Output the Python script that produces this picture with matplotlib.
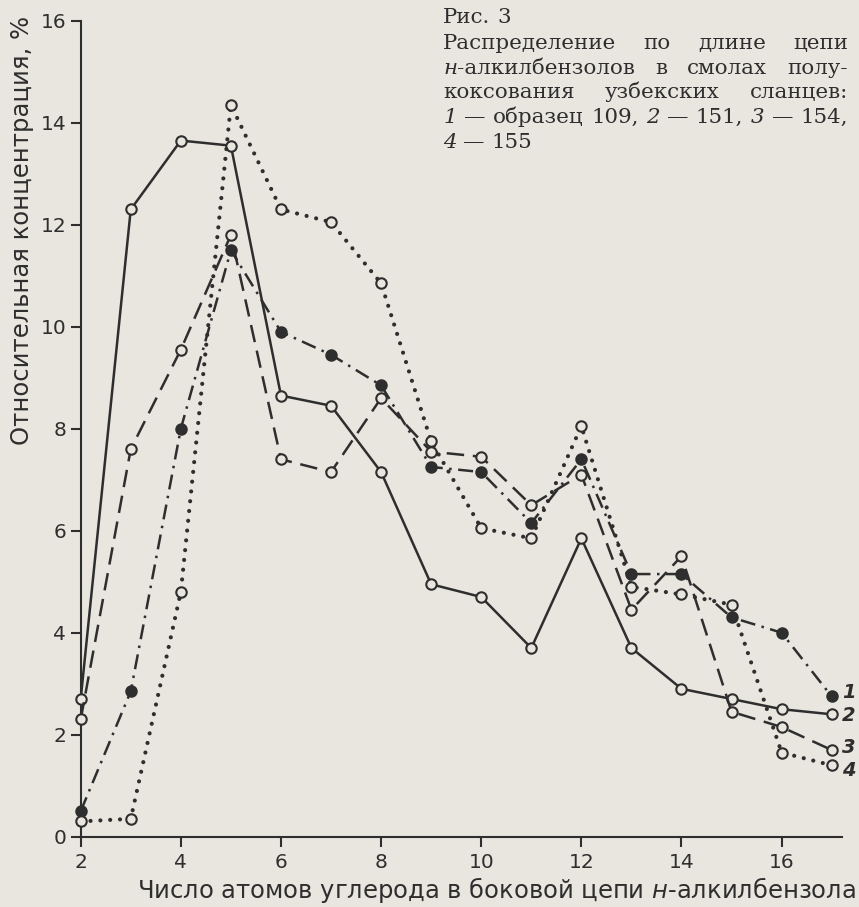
import numpy as np
import matplotlib
matplotlib.use("Agg")
import matplotlib.pyplot as plt

# carbon atoms in the side chain
carbons = [2, 3, 4, 5, 6, 7, 8, 9, 10, 11, 12, 13, 14, 15, 16, 17]

# relative concentration, %
s109 = [0.5, 2.85, 8.0, 11.5, 9.9, 9.45, 8.85, 7.25, 7.15, 6.15, 7.4, 5.15, 5.15, 4.3, 4.0, 2.75]
s151 = [2.7, 12.3, 13.65, 13.55, 8.65, 8.45, 7.15, 4.95, 4.7, 3.7, 5.85, 3.7, 2.9, 2.7, 2.5, 2.4]
s154 = [2.3, 7.6, 9.55, 11.8, 7.4, 7.15, 8.6, 7.55, 7.45, 6.5, 7.1, 4.45, 5.5, 2.45, 2.15, 1.7]
s155 = [0.3, 0.35, 4.8, 14.35, 12.3, 12.05, 10.85, 7.75, 6.05, 5.85, 8.05, 4.9, 4.75, 4.55, 1.65, 1.4]

curve_labels = ["1", "2", "3", "4"]
xticks = [2, 4, 6, 8, 10, 12, 14, 16]
yticks = [0, 2, 4, 6, 8, 10, 12, 14, 16]

BG = "#e8e6df"
INK = "#2e2e2e"
W, H = 859, 907

fig = plt.figure(figsize=(W / 100, H / 100), dpi=100, facecolor=BG)
# axes: x=2 at px 80.7, x=17.2 at px 841.7; y=0 at px 836.7, y=16 at px 20.7
ax = fig.add_axes([80.7 / W, (H - 836.7) / H, 761 / W, 816 / H])
ax.set_facecolor(BG)
ax.set_xlim(2, 17.2)
ax.set_ylim(0, 16)

for s in ["top", "right"]:
    ax.spines[s].set_visible(False)
for s in ["left", "bottom"]:
    ax.spines[s].set_linewidth(1.5)
    ax.spines[s].set_color(INK)
ax.spines["left"].set_bounds(0, 16)

ax.set_xticks(xticks)
ax.set_yticks(yticks)
ax.tick_params(direction="out", length=7.5, width=1.5, color=INK,
               labelsize=14.5, labelcolor=INK)
ax.tick_params(axis="x", pad=4)
ax.tick_params(axis="y", pad=3)
for lab in ax.get_xticklabels() + ax.get_yticklabels():
    lab.set_family("DejaVu Sans")

lw = 1.8
common = dict(color=INK, clip_on=False, zorder=3)
# 2: solid
ax.plot(carbons, s151, linestyle="-", lw=lw, marker="o", ms=7.5,
        mfc=BG, mec=INK, mew=1.5, **common)
# 3: dashed
ax.plot(carbons, s154, linestyle=(0, (7, 3.5)), lw=lw, marker="o", ms=7.5,
        mfc=BG, mec=INK, mew=1.5, **common)
# 1: dash-dot, filled markers
ax.plot(carbons, s109, linestyle=(0, (6, 2.6, 1, 2.6)), lw=lw, marker="o", ms=7.5,
        mfc=INK, mec=INK, mew=1.5, **common)
# 4: dotted
ax.plot(carbons, s155, linestyle=(0, (0.01, 2.35)), lw=3.0, dash_capstyle="round",
        color=INK, clip_on=False, zorder=3)
ax.plot(carbons, s155, linestyle="none", marker="o", ms=7.5,
        mfc=BG, mec=INK, mew=1.5, color=INK, clip_on=False, zorder=4)

# curve numbers at the right end
label_dy = [2.5, -1.2, 2.0, -3.5]
for lab, ser, dy in zip(curve_labels, [s109, s151, s154, s155], label_dy):
    ax.annotate(lab, xy=(carbons[-1], ser[-1]), xytext=(7.5, dy),
                textcoords="offset points", ha="left", va="center",
                fontsize=14, style="italic", fontweight="bold",
                family="DejaVu Sans", color=INK, annotation_clip=False)

# axis titles
fig.text(22 / W, 1 - 230 / H, "Относительная концентрация, %", rotation=90,
         ha="center", va="center", fontsize=17.5, family="DejaVu Sans", color=INK)
fig.text(496 / W, 1 - 890 / H, r"Число атомов углерода в боковой цепи $\mathit{н}$-алкилбензола",
         ha="center", va="center", fontsize=17.5, family="DejaVu Sans",
         math_fontfamily="dejavusans", color=INK)

# caption, justified word by word
cap_font = dict(fontsize=15.4, family="DejaVu Serif", color=INK)
caption = [
    ([[("Рис.", "normal")], [("3", "normal")]], False),
    ([[("Распределение", "normal")], [("по", "normal")], [("длине", "normal")],
      [("цепи", "normal")]], True),
    ([[("н", "italic"), ("-алкилбензолов", "normal")], [("в", "normal")],
      [("смолах", "normal")], [("полу-", "normal")]], True),
    ([[("коксования", "normal")], [("узбекских", "normal")], [("сланцев:", "normal")]], True),
    ([[("1", "italic")], [("—", "normal")], [("образец", "normal")], [("109,", "normal")],
      [("2", "italic")], [("—", "normal")], [("151,", "normal")],
      [("3", "italic")], [("—", "normal")], [("154,", "normal")]], True),
    ([[("4", "italic")], [("—", "normal")], [("155", "normal")]], False),
]
baselines = [23, 49, 73.5, 98, 123, 148]
x_left, x_right = 443, 848

fig.canvas.draw()
rend = fig.canvas.get_renderer()


def width_of(s, style):
    t = fig.text(0, 0, s, style=style, **cap_font)
    w = t.get_window_extent(rend).width
    t.remove()
    return w


space_w = width_of("a a", "normal") - width_of("aa", "normal")

for (words, justify), yb in zip(caption, baselines):
    widths = [sum(width_of(p, st) for p, st in word) for word in words]
    if justify and len(words) > 1:
        gap = max((x_right - x_left - sum(widths)) / (len(words) - 1), 0.5 * space_w)
    else:
        gap = space_w
    x = x_left
    for word, ww in zip(words, widths):
        xp = x
        for p, st in word:
            fig.text(xp / W, 1 - yb / H, p, style=st, ha="left", va="baseline", **cap_font)
            xp += width_of(p, st)
        x += ww + gap

fig.savefig("out.png", dpi=100, facecolor=BG)
